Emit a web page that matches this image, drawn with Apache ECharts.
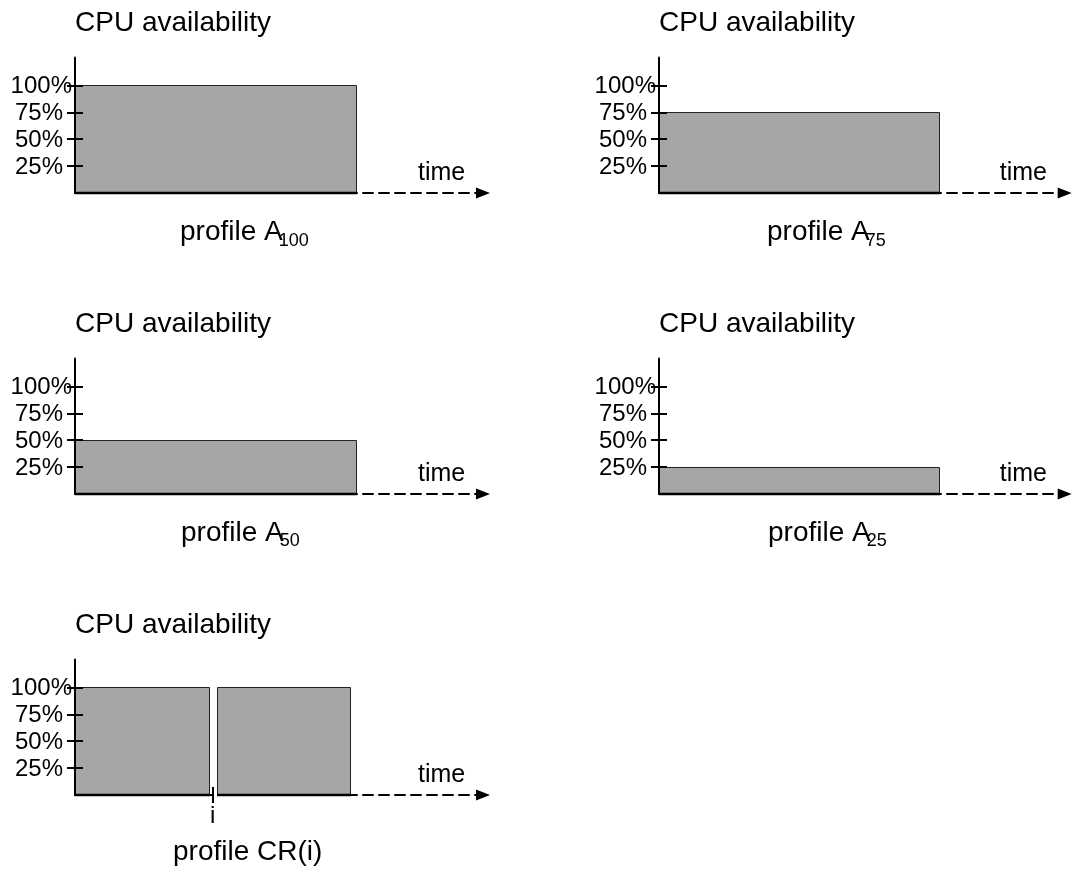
<!DOCTYPE html>
<html>
<head>
<meta charset="utf-8">
<script src="https://cdn.jsdelivr.net/npm/echarts@6.0.0/dist/echarts.min.js"></script>
<style>
  html, body { margin: 0; padding: 0; background: #ffffff; }
  #chart { width: 1074px; height: 873px; }
</style>
</head>
<body>
<div id="chart"></div>
<script>
// ---- data ----
const yTickValues = [25, 50, 75, 100];
const yTickLabels = ['25%', '50%', '75%', '100%'];
const yAxisTitle = 'CPU availability';
const xAxisTitle = 'time';
const profileNames = ['profile A', 'profile A', 'profile A', 'profile A', 'profile CR(i)'];
const profileSubscripts = ['100', '75', '50', '25', ''];
// each segment: [start time, end time, availability %]
const segmentsA100 = [[0, 10, 100]];
const segmentsA75 = [[0, 10, 75]];
const segmentsA50 = [[0, 10, 50]];
const segmentsA25 = [[0, 10, 25]];
const segmentsCR = [[0, 4.78, 100], [5.03, 9.77, 100]];
const crMarkerValues = [4.89];
const crMarkerLabels = ['i'];
const profileSegments = [segmentsA100, segmentsA75, segmentsA50, segmentsA25, segmentsCR];

// ---- layout (positions only) ----
const FONT = "'Liberation Sans', Arial, Helvetica, sans-serif";
const Y_MAX = 126;
const X_MAX = 14.5;
const GRID_H = 135.6;
const layout = [
  { left: 75,  base: 193, width: 408,   titleLeft: 180, titleBase: 245.5 },
  { left: 659, base: 193, width: 405.7, titleLeft: 767, titleBase: 245.5 },
  { left: 75,  base: 494, width: 408,   titleLeft: 181, titleBase: 546.2 },
  { left: 659, base: 494, width: 405.7, titleLeft: 768, titleBase: 546.2 },
  { left: 75,  base: 795, width: 408,   titleLeft: 173, titleBase: 862 }
];

const grids = [], xAxes = [], yAxes = [], series = [], titles = [];
const tickStyle = { color: '#000', width: 2 };

layout.forEach((L, i) => {
  grids.push({ left: L.left, top: L.base - GRID_H, width: L.width, height: GRID_H, outerBoundsMode: 'none', containLabel: false });
  const isCR = i === 4;
  // main x axis: dashed time arrow
  xAxes.push({
    gridIndex: i, type: 'value', min: 0, max: X_MAX, position: 'bottom', z: 0,
    axisLine: { show: true, onZero: false, symbol: ['none', 'triangle'], symbolSize: [11, 14],
      lineStyle: { color: '#000', width: 2, type: [10, 6] } },
    axisTick: { show: isCR, customValues: crMarkerValues, length: 8, lineStyle: tickStyle },
    axisLabel: { show: isCR, customValues: crMarkerValues, formatter: () => crMarkerLabels[0],
      margin: 9, fontSize: 24, color: '#000', fontFamily: FONT },
    splitLine: { show: false },
    name: xAxisTitle, nameLocation: 'end', nameGap: -65, nameMoveOverlap: false,
    nameTextStyle: { fontSize: 25, color: '#000', fontFamily: FONT, align: 'left', verticalAlign: 'bottom', padding: [0, 0, 7, 0] }
  });
  // inner tick half for CR marker
  xAxes.push({
    gridIndex: i, type: 'value', min: 0, max: X_MAX, position: 'bottom', z: 10,
    axisLine: { show: false, onZero: false },
    axisTick: { show: isCR, inside: true, customValues: crMarkerValues, length: 8, lineStyle: tickStyle },
    axisLabel: { show: false }, splitLine: { show: false }
  });
  // main y axis
  yAxes.push({
    gridIndex: i, type: 'value', min: 0, max: Y_MAX, position: 'left', z: 10,
    axisLine: { show: true, onZero: false, lineStyle: { color: '#000', width: 2 } },
    axisTick: { show: true, customValues: yTickValues, length: 8, lineStyle: tickStyle },
    axisLabel: {
      customValues: yTickValues,
      formatter: v => {
        const t = yTickLabels[yTickValues.indexOf(v)];
        return v === 100 ? '{w|' + t + '}' : '{n|' + t + '}';
      },
      margin: 12, fontSize: 24, color: '#000', fontFamily: FONT,
      rich: {
        w: { fontSize: 24, color: '#000', fontFamily: FONT, padding: [2, -9, 0, 0] },
        n: { fontSize: 24, color: '#000', fontFamily: FONT, padding: [2, 0, 0, 0] }
      }
    },
    splitLine: { show: false },
    name: yAxisTitle, nameLocation: 'end', nameGap: 20.5, nameMoveOverlap: false,
    nameTextStyle: { fontSize: 28, color: '#000', fontFamily: FONT, align: 'left', verticalAlign: 'bottom' }
  });
  // inner tick half
  yAxes.push({
    gridIndex: i, type: 'value', min: 0, max: Y_MAX, position: 'left', z: 10,
    axisLine: { show: false, onZero: false },
    axisTick: { show: true, inside: true, customValues: yTickValues, length: 8, lineStyle: tickStyle },
    axisLabel: { show: false }, splitLine: { show: false }
  });

  series.push({
    type: 'custom',
    xAxisIndex: i * 2, yAxisIndex: i * 2,
    z: 5,
    data: profileSegments[i],
    encode: { x: [0, 1], y: 2 },
    renderItem: (params, api) => {
      const p0 = api.coord([api.value(0), api.value(2)]);
      const p1 = api.coord([api.value(1), 0]);
      const x0 = Math.round(p0[0]) + 0.5, x1 = Math.round(p1[0]) + 0.5;
      const y0 = Math.round(p0[1]) + 0.5, y1 = Math.round(p1[1]);
      return {
        type: 'group',
        children: [
          { type: 'rect', shape: { x: x0, y: y0, width: x1 - x0, height: y1 - y0 },
            style: { fill: '#a6a6a6', stroke: '#222', lineWidth: 1 } },
          { type: 'line', shape: { x1: x0 - 0.5, y1: y1, x2: x1 + 0.5, y2: y1 },
            style: { stroke: '#000', lineWidth: 2.6 } }
        ]
      };
    }
  });

  const hasSub = profileSubscripts[i] !== '';
  const text = '{m|' + profileNames[i] + '}' + (hasSub ? '{s|' + profileSubscripts[i] + '}' : '');
  const lineH = hasSub ? 35 : 28;
  titles.push({
    text: text, left: L.titleLeft, top: L.titleBase - lineH / 2 - 9.7, padding: 0,
    textStyle: {
      fontWeight: 'normal',
      rich: {
        m: { fontSize: 28, lineHeight: 28, color: '#000', fontFamily: FONT, fontWeight: 'normal' },
        s: { fontSize: 18, lineHeight: 18, color: '#000', fontFamily: FONT, fontWeight: 'normal', padding: [17, 0, 0, -4] }
      }
    }
  });
});

const chart = echarts.init(document.getElementById('chart'), null, { renderer: 'canvas' });
chart.setOption({
  backgroundColor: '#ffffff',
  animation: false,
  title: titles,
  grid: grids,
  xAxis: xAxes,
  yAxis: yAxes,
  series: series
});
</script>
</body>
</html>
